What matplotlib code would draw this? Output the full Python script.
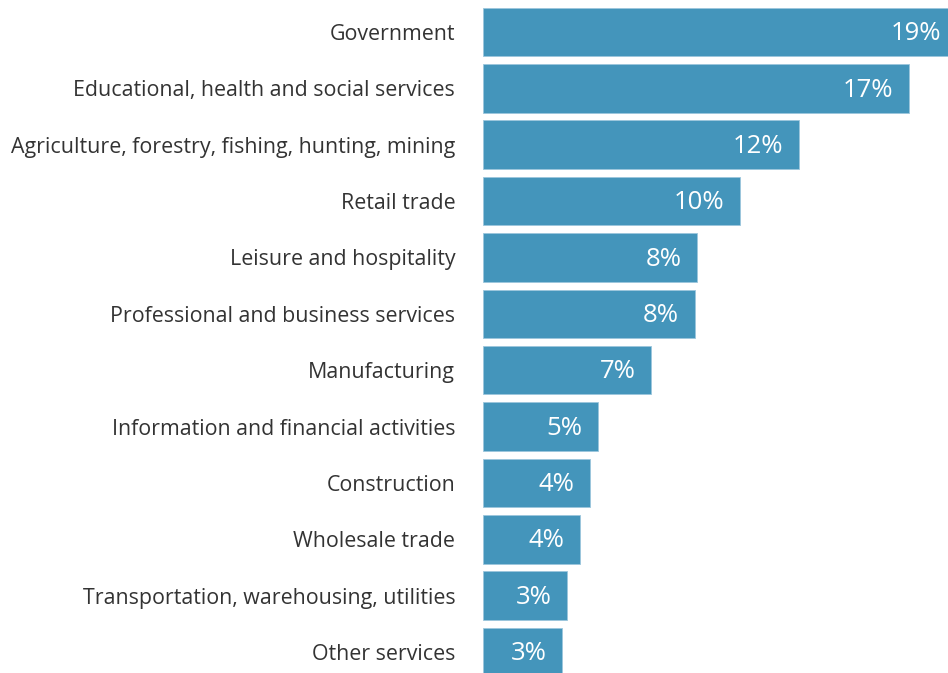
import matplotlib
matplotlib.use("Agg")
from matplotlib import pyplot as plt

plt.rcParams["font.family"] = ["Open Sans", "DejaVu Sans"]

# categories and shares (%)
categories = [
    "Government",
    "Educational, health and social services",
    "Agriculture, forestry, fishing, hunting, mining",
    "Retail trade",
    "Leisure and hospitality",
    "Professional and business services",
    "Manufacturing",
    "Information and financial activities",
    "Construction",
    "Wholesale trade",
    "Transportation, warehousing, utilities",
    "Other services",
]
values = [18.6, 16.7, 12.4, 10.1, 8.4, 8.3, 6.6, 4.5, 4.2, 3.8, 3.3, 3.1]
labels = ["19%", "17%", "12%", "10%", "8%", "8%", "7%", "5%", "4%", "4%", "3%", "3%"]

fig = plt.figure(figsize=(9.48, 6.73), dpi=100)
ax = fig.add_axes([483 / 948, 0, 465 / 948, 1])

ypos = list(range(len(categories)))
ax.barh(ypos, values, height=0.86, color="#4495bb", edgecolor="#9cc6dc", linewidth=0.6)
ax.set_xlim(0, 18.24)
ax.set_ylim(11.372, -0.567)

ax.set_yticks(ypos)
ax.set_yticklabels(categories, fontsize=15.4, color="#333333")
ax.tick_params(axis="y", length=0, pad=20)
ax.set_xticks([])
for s in ax.spines.values():
    s.set_visible(False)

# percentage labels inside the bars
for y, v, lab in zip(ypos, values, labels):
    ax.text(v - 0.62, y + 0.03, lab, ha="right", va="center", color="white", fontsize=18.5)

fig.savefig("out.png", dpi=100)
